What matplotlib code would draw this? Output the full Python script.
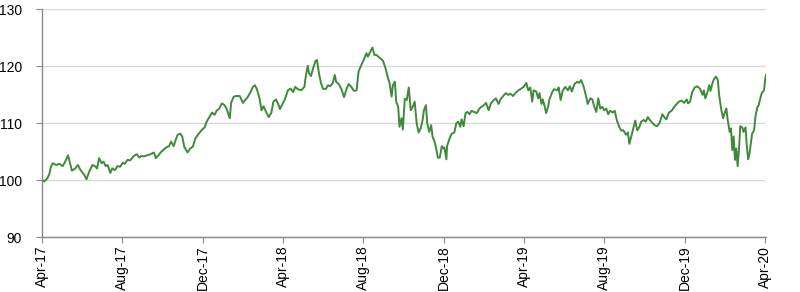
import matplotlib
matplotlib.use("Agg")
import matplotlib.pyplot as plt
import matplotlib.dates as mdates
import pandas as pd
from matplotlib import font_manager

# index level (start = 100)
dates = [
    "2017-04-03", "2017-04-05", "2017-04-10", "2017-04-13", "2017-04-15", "2017-04-18", "2017-04-23", "2017-04-28",
    "2017-05-03", "2017-05-08", "2017-05-11", "2017-05-14", "2017-05-17", "2017-05-22", "2017-05-26", "2017-05-30",
    "2017-06-05", "2017-06-08", "2017-06-12", "2017-06-17", "2017-06-21", "2017-06-24", "2017-06-27",
    "2017-07-01", "2017-07-04", "2017-07-07", "2017-07-10", "2017-07-14", "2017-07-17", "2017-07-21", "2017-07-25",
    "2017-07-29", "2017-08-02", "2017-08-05", "2017-08-09", "2017-08-13", "2017-08-19", "2017-08-23", "2017-08-27",
    "2017-08-30", "2017-09-03", "2017-09-08", "2017-09-13", "2017-09-18", "2017-09-21", "2017-09-25", "2017-09-29",
    "2017-10-02", "2017-10-07", "2017-10-11", "2017-10-14", "2017-10-18", "2017-10-21", "2017-10-24", "2017-10-28",
    "2017-10-31", "2017-11-03", "2017-11-08", "2017-11-12", "2017-11-16", "2017-11-20", "2017-11-25", "2017-11-30",
    "2017-12-04", "2017-12-07", "2017-12-11", "2017-12-15", "2017-12-19", "2017-12-22", "2017-12-26", "2017-12-30",
    "2018-01-03", "2018-01-06", "2018-01-11", "2018-01-13", "2018-01-17", "2018-01-21", "2018-01-26", "2018-01-31",
    "2018-02-04", "2018-02-07", "2018-02-11", "2018-02-15", "2018-02-18", "2018-02-21", "2018-02-25", "2018-02-28",
    "2018-03-03", "2018-03-07", "2018-03-11", "2018-03-15", "2018-03-18", "2018-03-22", "2018-03-26", "2018-03-28",
    "2018-03-30", "2018-04-04", "2018-04-09", "2018-04-13", "2018-04-17", "2018-04-20", "2018-04-24", "2018-04-29",
    "2018-05-04", "2018-05-06", "2018-05-09", "2018-05-11", "2018-05-14", "2018-05-17", "2018-05-21", "2018-05-23",
    "2018-05-26", "2018-05-29", "2018-06-01", "2018-06-05", "2018-06-09", "2018-06-12", "2018-06-16", "2018-06-19",
    "2018-06-21", "2018-06-25", "2018-06-29", "2018-07-03", "2018-07-07", "2018-07-10", "2018-07-14", "2018-07-18",
    "2018-07-22", "2018-07-25", "2018-07-29", "2018-08-02", "2018-08-06", "2018-08-08", "2018-08-11", "2018-08-15",
    "2018-08-18", "2018-08-21", "2018-08-25", "2018-08-29", "2018-08-31", "2018-09-04", "2018-09-07", "2018-09-10",
    "2018-09-13", "2018-09-15", "2018-09-18", "2018-09-20", "2018-09-23", "2018-09-25", "2018-09-28", "2018-09-30",
    "2018-10-03", "2018-10-06", "2018-10-09", "2018-10-12", "2018-10-15", "2018-10-18", "2018-10-21", "2018-10-24",
    "2018-10-27", "2018-10-30", "2018-11-01", "2018-11-04", "2018-11-06", "2018-11-09", "2018-11-12", "2018-11-14",
    "2018-11-17", "2018-11-19", "2018-11-22", "2018-11-25", "2018-11-28", "2018-11-30", "2018-12-02", "2018-12-05",
    "2018-12-06", "2018-12-10", "2018-12-13", "2018-12-17", "2018-12-20", "2018-12-23", "2018-12-26", "2018-12-28",
    "2018-12-31", "2019-01-03", "2019-01-06", "2019-01-09", "2019-01-12", "2019-01-16", "2019-01-20", "2019-01-24",
    "2019-01-27", "2019-01-31", "2019-02-03", "2019-02-07", "2019-02-10", "2019-02-14", "2019-02-18", "2019-02-22",
    "2019-02-25", "2019-03-01", "2019-03-05", "2019-03-09", "2019-03-12", "2019-03-16", "2019-03-20", "2019-03-24",
    "2019-03-27", "2019-04-01", "2019-04-05", "2019-04-08", "2019-04-11", "2019-04-14", "2019-04-16", "2019-04-20",
    "2019-04-23", "2019-04-25", "2019-04-28", "2019-04-30", "2019-05-03", "2019-05-05", "2019-05-08", "2019-05-10",
    "2019-05-14", "2019-05-17", "2019-05-22", "2019-05-24", "2019-05-27", "2019-05-30", "2019-06-03", "2019-06-07",
    "2019-06-10", "2019-06-13", "2019-06-17", "2019-06-21", "2019-06-24", "2019-06-27", "2019-07-01", "2019-07-04",
    "2019-07-07", "2019-07-11", "2019-07-14", "2019-07-17", "2019-07-20", "2019-07-23", "2019-07-26", "2019-07-29",
    "2019-08-01", "2019-08-04", "2019-08-07", "2019-08-10", "2019-08-14", "2019-08-17", "2019-08-20", "2019-08-24",
    "2019-08-27", "2019-08-30", "2019-09-03", "2019-09-06", "2019-09-08", "2019-09-11", "2019-09-14", "2019-09-17",
    "2019-09-20", "2019-09-23", "2019-09-26", "2019-09-30", "2019-10-03", "2019-10-06", "2019-10-09", "2019-10-13",
    "2019-10-16", "2019-10-20", "2019-10-24", "2019-10-28", "2019-10-31", "2019-11-03", "2019-11-07", "2019-11-11",
    "2019-11-15", "2019-11-19", "2019-11-22", "2019-11-26", "2019-11-30", "2019-12-04", "2019-12-06", "2019-12-09",
    "2019-12-12", "2019-12-16", "2019-12-20", "2019-12-24", "2019-12-28", "2019-12-30", "2020-01-01", "2020-01-04",
    "2020-01-07", "2020-01-09", "2020-01-12", "2020-01-14", "2020-01-17", "2020-01-20", "2020-01-22", "2020-01-25",
    "2020-01-28", "2020-01-31", "2020-02-02", "2020-02-04", "2020-02-07", "2020-02-09", "2020-02-11", "2020-02-13",
    "2020-02-15", "2020-02-17", "2020-02-19", "2020-02-21", "2020-02-23", "2020-02-26", "2020-02-28", "2020-03-02",
    "2020-03-04", "2020-03-06", "2020-03-08", "2020-03-10", "2020-03-12", "2020-03-15", "2020-03-17", "2020-03-20",
    "2020-03-22", "2020-03-25", "2020-03-27", "2020-03-30", "2020-04-01", "2020-04-02",
]
values = [
    100.0, 99.8, 100.4, 101.2, 102.4, 103.0, 102.7, 102.9,
    102.5, 103.6, 104.4, 103.0, 101.7, 102.1, 102.7, 101.8,
    100.9, 100.2, 101.5, 102.7, 102.5, 102.1, 103.9,
    103.0, 103.3, 102.5, 102.7, 101.3, 102.1, 101.8, 102.5,
    102.4, 103.1, 102.9, 103.6, 103.5, 104.3, 104.6, 104.0,
    104.3, 104.2, 104.4, 104.6, 104.9, 103.9, 104.4, 105.0,
    105.3, 105.8, 106.0, 106.8, 106.0, 107.1, 108.0, 108.2,
    107.7, 105.9, 104.9, 105.6, 105.9, 107.4, 108.2, 108.9,
    109.3, 110.3, 111.1, 111.9, 111.5, 112.2, 112.6, 113.5,
    113.2, 112.6, 110.9, 113.6, 114.7, 114.8, 114.8, 113.6,
    114.2, 114.6, 115.4, 116.4, 116.7, 116.0, 114.4, 112.3,
    113.0, 112.0, 111.1, 111.9, 113.8, 114.2, 113.2, 112.5,
    113.0, 114.1, 115.8, 116.1, 115.5, 116.4, 116.0, 115.8,
    116.4, 118.2, 120.1, 118.8, 118.3, 119.6, 121.0, 121.1,
    118.8, 117.1, 116.1, 116.0, 116.7, 116.5, 117.1, 118.5,
    117.3, 116.9, 116.0, 114.6, 116.1, 116.9, 116.4, 115.7,
    115.8, 119.1, 120.2, 121.2, 122.3, 121.7, 122.4, 123.3,
    122.0, 122.0, 121.6, 121.2, 121.0, 119.6, 118.2, 117.0,
    114.7, 116.7, 117.3, 113.8, 112.9, 109.4, 110.9, 108.9,
    114.3, 114.1, 116.3, 112.3, 112.9, 113.8, 110.0, 108.4,
    109.1, 110.6, 112.3, 113.2, 110.0, 108.5, 109.7, 107.7,
    106.8, 105.9, 104.0, 104.0, 106.0, 105.6, 105.8, 103.7,
    106.0, 107.4, 108.2, 108.4, 110.0, 110.3, 109.4, 110.7,
    109.5, 111.8, 112.0, 111.6, 112.2, 112.0, 111.8, 112.6,
    112.9, 113.2, 113.6, 112.3, 113.4, 114.0, 114.4, 113.4,
    114.2, 114.8, 115.3, 115.0, 115.2, 114.8, 115.4, 115.8,
    116.0, 116.4, 117.1, 115.8, 116.3, 113.8, 115.8, 115.6,
    114.4, 115.3, 113.4, 114.2, 112.9, 111.8, 112.9, 114.2,
    115.4, 116.0, 115.8, 116.3, 114.1, 115.7, 116.4, 115.8,
    116.5, 115.6, 116.9, 117.3, 117.1, 117.6, 116.4, 115.0,
    113.4, 114.4, 114.2, 112.9, 112.0, 114.4, 112.6, 112.9,
    112.3, 112.6, 111.6, 112.2, 111.9, 112.2, 110.6, 109.3,
    108.7, 108.8, 108.0, 108.4, 106.4, 107.7, 109.1, 110.5,
    108.8, 109.3, 110.3, 110.6, 110.3, 111.1, 110.6, 110.1,
    109.7, 109.5, 110.1, 111.6, 111.1, 110.7, 111.9, 112.2,
    112.9, 113.4, 113.8, 114.0, 113.6, 114.2, 113.5, 113.8,
    115.4, 116.3, 116.5, 116.1, 115.0, 115.8, 114.4, 115.3,
    116.7, 115.7, 117.1, 117.7, 118.2, 117.6, 115.0, 112.6,
    110.9, 112.0, 112.6, 110.6, 108.5, 109.1, 105.3, 107.7,
    103.6, 105.6, 102.5, 105.3, 109.5, 109.3, 108.5, 109.3,
    105.9, 103.7, 104.7, 106.5, 108.2, 108.8, 111.2, 112.9,
    113.2, 114.7, 115.4, 115.8, 117.9, 118.5,
]
tick_dates = ["2017-04-01", "2017-08-01", "2017-12-01", "2018-04-01", "2018-08-01", "2018-12-01",
              "2019-04-01", "2019-08-01", "2019-12-01", "2020-04-01"]
y_ticks = [90, 100, 110, 120, 130]

installed = {f.name for f in font_manager.fontManager.ttflist}
fam = ["Liberation Sans Narrow", "Liberation Sans", "DejaVu Sans"]
fam = [f for f in fam if f in installed] or ["DejaVu Sans"]
plt.rcParams["font.family"] = fam

x = pd.to_datetime(dates)
ticks = pd.to_datetime(tick_dates)

fig = plt.figure(figsize=(8, 2.92), dpi=100)
ax = fig.add_axes([0.052, 0.187, 0.9055, 0.781])

ax.plot(x, values, color="#3f8a3a", linewidth=1.4)

ax.set_ylim(90, 130)
ax.set_yticks(y_ticks)
ax.set_xlim(pd.Timestamp("2017-04-01"), pd.Timestamp("2020-04-02"))
ax.set_xticks(ticks)
ax.xaxis.set_major_formatter(mdates.DateFormatter("%b-%y"))
plt.setp(ax.get_xticklabels(), rotation=90)

ax.grid(axis="y", color="#d9d9d9", linewidth=1)
ax.set_axisbelow(True)
for s in ["top", "right"]:
    ax.spines[s].set_visible(False)
for s in ["left", "bottom"]:
    ax.spines[s].set_color("#888888")
    ax.spines[s].set_linewidth(1)
ax.tick_params(axis="y", length=4, color="#888888", labelsize=10, pad=10)
ax.tick_params(axis="x", length=4, color="#888888", labelsize=10, pad=2)

fig.savefig("out.png", dpi=100)
